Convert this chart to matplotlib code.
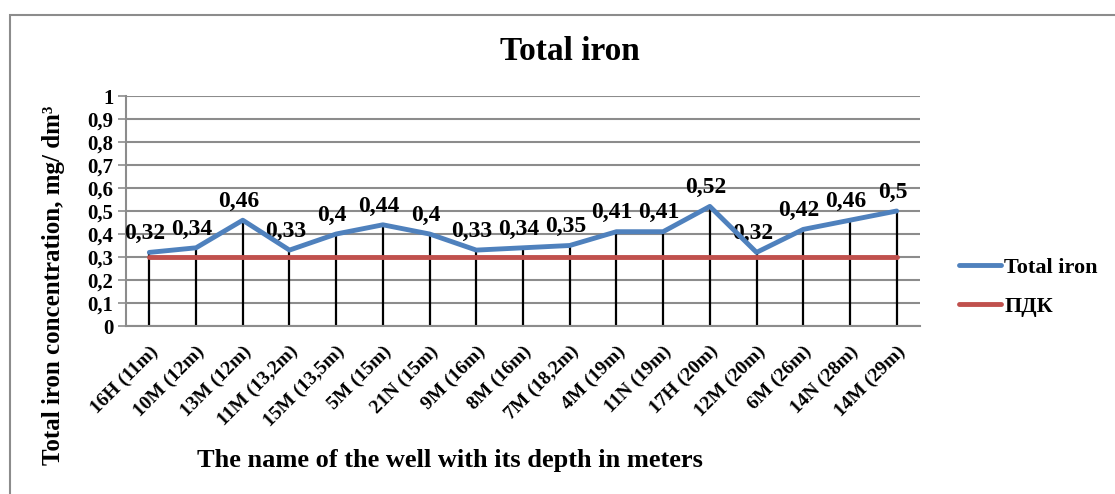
import matplotlib
matplotlib.use("Agg")
import matplotlib.pyplot as plt
from matplotlib.patches import Rectangle
import numpy as np

categories = ["16H (11m)", "10M (12m)", "13M (12m)", "11M (13,2m)", "15M (13,5m)",
              "5M (15m)", "21N (15m)", "9M (16m)", "8M (16m)", "7M (18,2m)",
              "4M (19m)", "11N (19m)", "17H (20m)", "12M (20m)", "6M (26m)",
              "14N (28m)", "14M (29m)"]
total_iron = [0.32, 0.34, 0.46, 0.33, 0.4, 0.44, 0.4, 0.33, 0.34, 0.35,
              0.41, 0.41, 0.52, 0.32, 0.42, 0.46, 0.5]
pdk = [0.3] * len(categories)
yticks = [0, 0.1, 0.2, 0.3, 0.4, 0.5, 0.6, 0.7, 0.8, 0.9, 1]

plt.rcParams['font.family'] = ['Liberation Serif', 'DejaVu Serif']
plt.rcParams['font.weight'] = 'bold'

W, H = 1115, 494
fig = plt.figure(figsize=(W / 100, H / 100), dpi=100)
ax = fig.add_axes([126 / W, 1 - 326 / H, (920 - 126) / W, (326 - 96) / H])

# outer frame
fig.patches.append(Rectangle((10 / W, -0.1), 1.2, 1 - 15 / H + 0.1, transform=fig.transFigure,
                             fill=False, edgecolor='#8c8c8c', lw=1.5))

x = np.arange(len(categories))
ax.set_xlim(-0.5, len(categories) - 0.5)
ax.set_ylim(0, 1)

ax.set_yticks(yticks)
ax.set_yticklabels([("%g" % v).replace('.', ',') for v in yticks], fontsize=15, fontweight='bold')
ax.yaxis.grid(True, color='#8c8c8c', lw=1.5)
ax.set_axisbelow(True)
ax.tick_params(axis='y', length=6, width=1.2, color='#8c8c8c', pad=3)

ax.set_xticks(x)
ax.set_xticklabels(categories, rotation=45, ha='right', rotation_mode='anchor',
                   fontsize=14, fontweight='bold')
ax.tick_params(axis='x', length=0, pad=12)

for s in ['top', 'right']:
    ax.spines[s].set_visible(False)
for s in ['left', 'bottom']:
    ax.spines[s].set_color('#8c8c8c')
    ax.spines[s].set_linewidth(1.5)

# drop lines
ax.vlines(x, 0, total_iron, colors='black', lw=1.6, zorder=2)
ax.plot(x, pdk, color='#C0504D', lw=3.5, solid_capstyle='round', zorder=3, label='ПДК')
ax.plot(x, total_iron, color='#4F81BD', lw=3.5, solid_capstyle='round', zorder=4, label='Total iron')

for xi, v in zip(x, total_iron):
    ax.annotate(("%g" % v).replace('.', ','), (xi, v), xytext=(-3, 6), textcoords='offset points',
                ha='center', va='bottom', fontsize=17, fontweight='bold')

fig.text(570 / W, 1 - 52 / H, "Total iron", ha='center', va='center', fontsize=24, fontweight='bold')
fig.text(54 / W, 1 - 285 / H, "Total iron concentration, mg/ dm³", rotation=90,
         ha='center', va='center', fontsize=18, fontweight='bold')
fig.text(450 / W, 1 - 460 / H, "The name of the well with its depth in meters",
         ha='center', va='center', fontsize=19, fontweight='bold')

h, l = ax.get_legend_handles_labels()
leg = fig.legend(h[::-1], l[::-1], loc='center left', bbox_to_anchor=(950 / W, 1 - 287 / H),
                 frameon=False, prop={'family': 'Liberation Serif', 'weight': 'bold', 'size': 16},
                 handlelength=1.9, handletextpad=0.15, labelspacing=0.85, borderaxespad=0)

fig.savefig("out.png", dpi=100)
